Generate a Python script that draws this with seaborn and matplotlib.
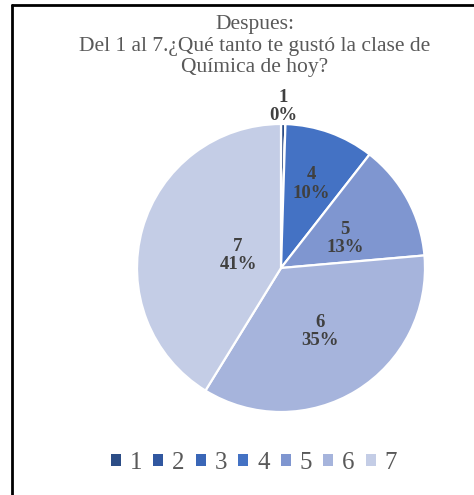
import numpy as np
import matplotlib
matplotlib.use("Agg")
import matplotlib.pyplot as plt
from matplotlib.patches import Patch
from matplotlib.lines import Line2D
import seaborn as sns

categories = ["1", "2", "3", "4", "5", "6", "7"]
values = [0.49, 0, 0, 10, 13, 35, 41]
colors = ["#2C4D86", "#3157A0", "#3A66B7", "#4472C4", "#7F96D0", "#A6B4DC", "#C4CDE6"]
title_text = "Despues:\nDel 1 al 7.¿Qué tanto te gustó la clase de\nQuímica de hoy?"

sns.set_theme(style="white")
plt.rcParams['font.family'] = ['Liberation Serif', 'DejaVu Serif']

fig = plt.figure(figsize=(4.74, 4.95), dpi=100)
W, H = 474, 495
cx, cy, r = 281, 268, 144
ax = fig.add_axes([(cx - r) / W, (H - cy - r) / H, 2 * r / W, 2 * r / H])

wedges, _ = ax.pie(values, colors=colors, startangle=90, counterclock=False,
                   wedgeprops=dict(edgecolor="white", linewidth=1.6))
ax.set_xlim(-1, 1)
ax.set_ylim(-1, 1)
ax.set_aspect("equal")
ax.axis("off")

total = sum(values)
# (radius fraction, angle shift in degrees) for label placement
label_pos = {"1": (1.12, 0), "4": (0.62, 0), "5": (0.49, -4),
             "6": (0.52, 0), "7": (0.31, 0)}
for cat, v, w in zip(categories, values, wedges):
    if v <= 0:
        continue
    rr, shift = label_pos.get(cat, (0.55, 0))
    ang = np.deg2rad((w.theta1 + w.theta2) / 2 + shift)
    x, y = rr * np.cos(ang), rr * np.sin(ang)
    pct = round(v / total * 100)
    ax.text(x, y, f"{cat}\n{pct}%", ha="center", va="center", fontsize=13.5,
            fontweight="bold", color="#404040", linespacing=1.1)

fig.text(255 / W, 1 - 46 / H, title_text, ha="center", va="center",
         fontsize=15.5, color="#595959", linespacing=1.2)

handles = [Patch(facecolor=c, edgecolor="none") for c in colors]
fig.legend(handles, categories, loc="center", bbox_to_anchor=(254 / W, 1 - 463 / H),
           ncol=7, frameon=False, fontsize=18, handlelength=0.4, handleheight=0.4,
           handletextpad=0.35, columnspacing=0.45, labelcolor="#595959")

fig.add_artist(Line2D([12 / W, 12 / W], [0, 1 - 5 / H], color="black", lw=2,
                      transform=fig.transFigure))
fig.add_artist(Line2D([12 / W, 1], [1 - 5 / H, 1 - 5 / H], color="black", lw=2,
                      transform=fig.transFigure))

fig.savefig("out.png", dpi=100, facecolor="white")
